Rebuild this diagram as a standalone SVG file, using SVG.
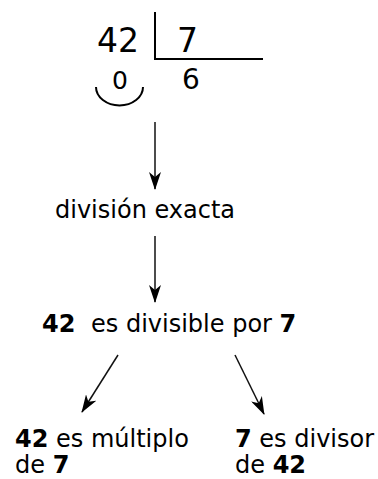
<svg xmlns="http://www.w3.org/2000/svg" width="378" height="479" viewBox="0 0 378 479">
<style>
text{font-family:"DejaVu Sans",sans-serif;fill:#000}
.t{font-size:24px}
.b{font-weight:bold}
.ln{stroke:#000;stroke-width:2;fill:none}
.ar{stroke:#111;stroke-width:1.5;fill:none;marker-end:url(#ah)}
</style>
<defs>
<marker id="ah" viewBox="0 0 18 12" refX="17" refY="6" markerWidth="18" markerHeight="12" orient="auto" markerUnits="userSpaceOnUse">
<path d="M0,0 L18,6 L0,12 L5,6 Z" fill="#000"/>
</marker>
</defs>
<g id="division">
<text x="97" y="52" font-size="33">42</text>
<text x="177" y="52" font-size="33">7</text>
<path class="ln" d="M155,12 V59 H263"/>
<text x="112" y="89" font-size="25">0</text>
<text x="182" y="89" font-size="28">6</text>
<path class="ln" d="M96,87 A23,18 0 0 0 143,87"/>
</g>
<g id="exacta">
<text class="t" x="55" y="218">división exacta</text>
</g>
<g id="divisible">
<text class="t" x="42" y="332"><tspan class="b">42</tspan><tspan x="91">es divisible por </tspan><tspan class="b">7</tspan></text>
</g>
<g id="multiplo">
<text class="t" x="15" y="447"><tspan class="b">42</tspan> es múltiplo</text>
<text class="t" x="15" y="473">de <tspan class="b">7</tspan></text>
</g>
<g id="divisor">
<text class="t" x="235" y="447"><tspan class="b">7</tspan> es divisor</text>
<text class="t" x="235" y="473">de <tspan class="b">42</tspan></text>
</g>
<g id="connectors">
<path class="ar" d="M155,122 V189"/>
<path class="ar" d="M155,236 V302"/>
<path class="ar" d="M118,355 L82,412"/>
<path class="ar" d="M235,355 L264,414"/>
</g>
</svg>
